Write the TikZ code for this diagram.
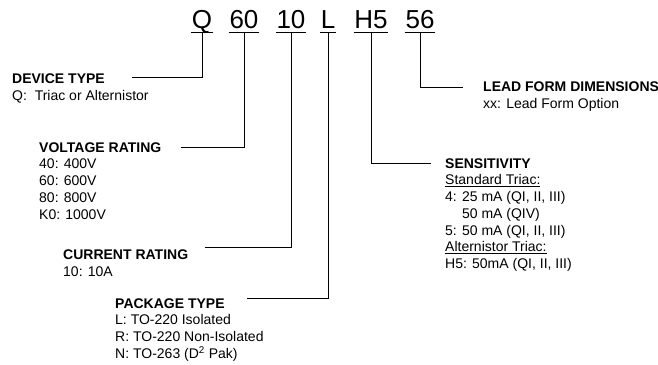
\documentclass[tikz,border=0pt]{standalone}
\usepackage{fontspec}
\setmainfont{Liberation Sans}
\begin{document}
\begin{tikzpicture}[x=1pt,y=1pt,
  code/.style={font=\fontsize{26}{30}\selectfont, anchor=base, inner xsep=0.5pt, inner ysep=4pt, text depth=0pt},
  lbl/.style={font=\fontsize{14}{16.7}\selectfont, anchor=north west, inner sep=0pt, align=left},
  ln/.style={line width=0.9pt, black},
  ul/.style={line width=1.2pt, black}]
\useasboundingbox (0,0) rectangle (658,-364);
% code letters
\node[code] (q)  at (202,-28.5) {Q};
\node[code] (v)  at (244,-28.5) {60};
\node[code] (c)  at (291,-28.5) {10};
\node[code] (p)  at (328,-28.5) {L};
\node[code] (s)  at (371,-28.5) {H5};
\node[code] (d)  at (420,-28.5) {56};
\foreach \n in {q,v,c,p,s,d}{\draw[ul] (\n.south west) -- (\n.south east);}
% labels
\node[lbl] (dev) at (12,-74) {\textbf{DEVICE TYPE}\\Q:\ \ Triac or Alternistor};
\node[lbl] (volt) at (39,-142.3) {\textbf{VOLTAGE RATING}\\40: 400V\\60: 600V\\80: 800V\\K0: 1000V};
\node[lbl] (cur) at (63,-250) {\textbf{CURRENT RATING}\\10: 10A};
\node[lbl] (pkg) at (115,-298.3) {\textbf{PACKAGE TYPE}\\L: TO-220 Isolated\\R: TO-220 Non-Isolated\\N: TO-263 (D\textsuperscript{2} Pak)};
\node[lbl] (sens) at (445,-158.3) {\textbf{SENSITIVITY}\\\underline{Standard Triac:}\\4: 25 mA (QI, II, III)\\\phantom{4: }50 mA (QIV)\\5: 50 mA (QI, II, III)\\\underline{Alternistor Triac:}\\H5: 50mA (QI, II, III)};
\node[lbl] (lead) at (483,-81.7) {\textbf{LEAD FORM DIMENSIONS}\\xx: Lead Form Option};
% line ends
\coordinate (qe) at (131.7,-77.3);
\coordinate (ve) at (180.7,-147.3);
\coordinate (ce) at (205,-247.3);
\coordinate (pe) at (246.7,-298.3);
\coordinate (se) at (431,-163.3);
\coordinate (de) at (463.3,-87.3);
\draw[ln] (q.south) |- (qe);
\draw[ln] (v.south) |- (ve);
\draw[ln] (c.south) |- (ce);
\draw[ln] (p.south) |- (pe);
\draw[ln] (s.south) |- (se);
\draw[ln] (d.south) |- (de);
\end{tikzpicture}
\end{document}
